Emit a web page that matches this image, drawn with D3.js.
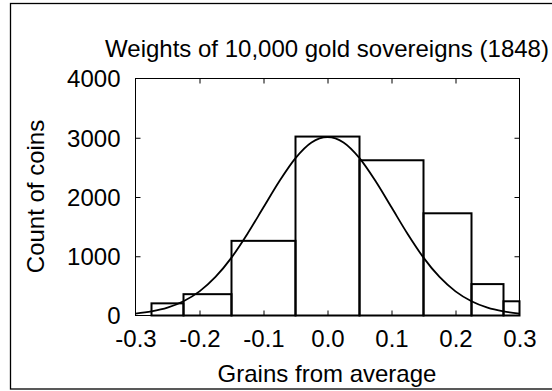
<!DOCTYPE html>
<html>
<head>
<meta charset="utf-8">
<script src="https://cdn.jsdelivr.net/npm/d3@7"></script>
<style>
  html, body { margin: 0; padding: 0; background: #fff; }
  svg { display: block; }
  text { font-family: "Liberation Sans", Arial, sans-serif; fill: #000; }
</style>
</head>
<body>
<svg id="chart" width="552" height="391"></svg>
<script>
// Histogram bins (grain deviation from average) and coin counts
const binStarts = [-0.275, -0.225, -0.15, -0.05, 0.05, 0.15, 0.225, 0.275];
const binEnds   = [-0.225, -0.15, -0.05, 0.05, 0.15, 0.225, 0.275, 0.3];
const counts    = [205, 360, 1260, 3020, 2620, 1725, 530, 240];

// Fitted bell curve sampled along the x axis
const curveX = [-0.3, -0.275, -0.25, -0.225, -0.2, -0.175, -0.15, -0.125, -0.1, -0.075, -0.05, -0.025, 0,
                0.025, 0.05, 0.075, 0.1, 0.125, 0.15, 0.175, 0.2, 0.225, 0.25, 0.275, 0.3];
const curveY = [33, 70, 132, 240, 407, 650, 977, 1380, 1826, 2270, 2656, 2920, 3010,
                2920, 2656, 2270, 1826, 1380, 977, 650, 407, 240, 132, 70, 33];

const xTicks = [-0.3, -0.2, -0.1, 0.0, 0.1, 0.2, 0.3];
const yTicks = [0, 1000, 2000, 3000, 4000];

const title = "Weights of 10,000 gold sovereigns (1848)";
const xTitle = "Grains from average";
const yTitle = "Count of coins";

const FONT = 24;
const svg = d3.select("#chart");
const plotL = 135.5, plotR = 519.5, plotT = 78.5, plotB = 315.5;

const x = d3.scaleLinear().domain([-0.3, 0.3]).range([plotL, plotR]);
const y = d3.scaleLinear().domain([0, 4000]).range([plotB, plotT]);

// outer frame
svg.append("rect")
  .attr("x", 10.5).attr("y", 3.5).attr("width", 560).attr("height", 385.5)
  .attr("fill", "none").attr("stroke", "#000").attr("stroke-width", 1.3);

// title
svg.append("text")
  .attr("x", 327).attr("y", 56.5).attr("text-anchor", "middle")
  .attr("font-size", FONT).text(title);

// bars
const bars = binStarts.map((s, i) => ({ x0: s, x1: binEnds[i], v: counts[i] }));
svg.append("g").selectAll("rect").data(bars).join("rect")
  .attr("x", d => x(d.x0))
  .attr("y", d => y(d.v))
  .attr("width", d => x(d.x1) - x(d.x0))
  .attr("height", d => y(0) - y(d.v))
  .attr("fill", "none").attr("stroke", "#000").attr("stroke-width", 2);

// curve
const pts = curveX.map((cx, i) => [cx, curveY[i]]);
svg.append("path")
  .datum(pts)
  .attr("d", d3.line().x(d => x(d[0])).y(d => y(d[1])).curve(d3.curveMonotoneX))
  .attr("fill", "none").attr("stroke", "#000").attr("stroke-width", 1.8);

// plot box
svg.append("rect")
  .attr("x", plotL).attr("y", plotT).attr("width", plotR - plotL).attr("height", plotB - plotT)
  .attr("fill", "none").attr("stroke", "#000").attr("stroke-width", 1);

// axes with inward ticks
const tickLen = 5;
const gx = svg.append("g").attr("transform", `translate(0,${plotB})`)
  .call(d3.axisBottom(x).tickValues(xTicks).tickSize(-tickLen).tickPadding(0).tickFormat(d => d.toFixed(1)));
gx.select(".domain").remove();
gx.selectAll("text").attr("font-size", FONT).attr("y", 31.5).attr("dy", null);
gx.selectAll("line").filter(d => d === -0.3 || d === 0.3).remove();

const gxt = svg.append("g").attr("transform", `translate(0,${plotT})`)
  .call(d3.axisTop(x).tickValues(xTicks).tickSize(-tickLen).tickFormat(""));
gxt.select(".domain").remove();
gxt.selectAll("line").filter(d => d === -0.3 || d === 0.3).remove();

const gy = svg.append("g").attr("transform", `translate(${plotL},0)`)
  .call(d3.axisLeft(y).tickValues(yTicks).tickSize(-tickLen).tickPadding(15).tickFormat(d3.format("d")));
gy.select(".domain").remove();
gy.selectAll("text").attr("font-size", FONT).attr("dy", "0.35em");
gy.selectAll("line").filter(d => d === 0 || d === 4000).remove();

const gyr = svg.append("g").attr("transform", `translate(${plotR},0)`)
  .call(d3.axisRight(y).tickValues(yTicks).tickSize(-tickLen).tickFormat(""));
gyr.select(".domain").remove();
gyr.selectAll("line").filter(d => d === 0 || d === 4000).remove();

// axis titles
svg.append("text")
  .attr("x", 327).attr("y", 382).attr("text-anchor", "middle")
  .attr("font-size", FONT).text(xTitle);

svg.append("text")
  .attr("transform", `translate(43.5,196.5) rotate(-90)`)
  .attr("text-anchor", "middle")
  .attr("font-size", FONT).text(yTitle);
</script>
</body>
</html>
